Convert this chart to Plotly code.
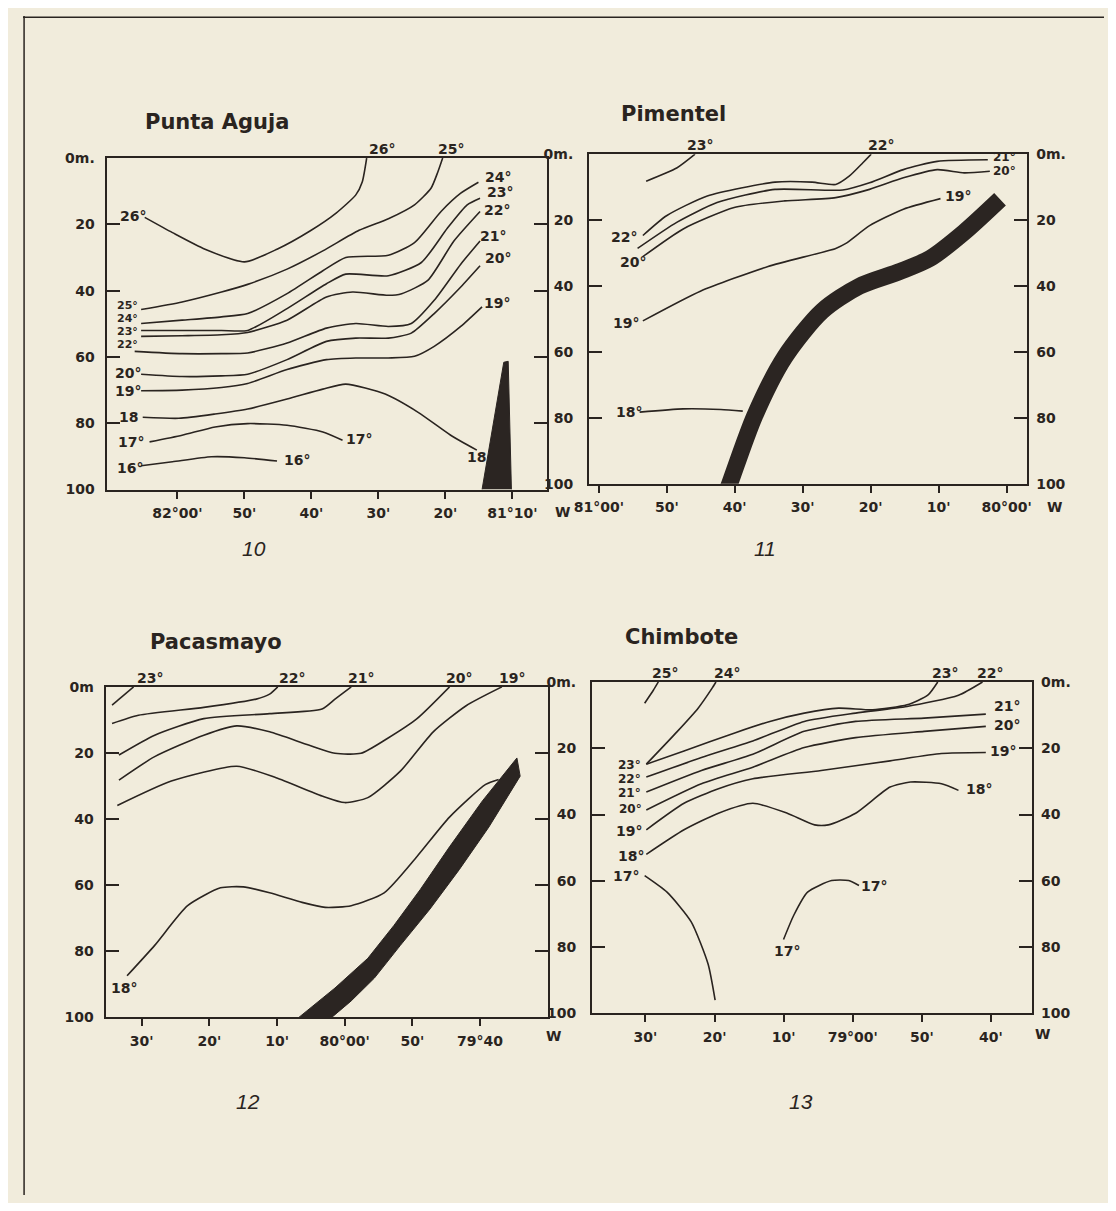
import plotly.graph_objects as go

INK = "#2a2420"
PAPER = "#f1ecdc"
FONT = "DejaVu Sans"

# ---------------- Fig. 10  Punta Aguja ----------------
PA_T26_LON = [-82.081, -82.012, -81.931, -81.833, -81.752, -81.670, -81.605, -81.556, -81.540, -81.529]
PA_T26_DEP = [17.9, 22.5, 27.5, 31.3, 27.5, 22.0, 16.6, 11.1, 7.2, 0.0]
PA_T25_LON = [-82.090, -81.988, -81.890, -81.825, -81.727, -81.638, -81.548, -81.475, -81.410, -81.369, -81.352, -81.340]
PA_T25_DEP = [45.7, 43.4, 40.4, 38.1, 33.5, 28.0, 21.8, 18.3, 14.1, 9.1, 4.2, 0.0]
PA_T24_LON = [-82.090, -81.988, -81.890, -81.825, -81.727, -81.638, -81.581, -81.475, -81.410, -81.344, -81.295, -81.251]
PA_T24_DEP = [49.9, 48.9, 47.9, 46.9, 40.9, 34.0, 30.0, 29.3, 25.5, 16.1, 10.6, 7.3]
PA_T23_LON = [-82.090, -81.988, -81.890, -81.825, -81.727, -81.629, -81.581, -81.475, -81.393, -81.328, -81.279, -81.247]
PA_T23_DEP = [52.0, 52.0, 52.0, 52.0, 45.4, 37.9, 35.0, 35.5, 31.5, 21.1, 14.1, 12.1]
PA_T22_LON = [-82.090, -81.988, -81.890, -81.825, -81.727, -81.629, -81.564, -81.475, -81.442, -81.377, -81.312, -81.247]
PA_T22_DEP = [53.8, 53.6, 53.3, 52.6, 48.9, 41.9, 40.4, 41.4, 40.9, 36.9, 25.0, 16.1]
PA_T21_LON = [-82.106, -81.988, -81.890, -81.825, -81.727, -81.629, -81.556, -81.475, -81.418, -81.361, -81.295, -81.247]
PA_T21_DEP = [58.3, 59.0, 59.0, 58.8, 55.8, 51.3, 49.9, 50.8, 49.9, 42.9, 32.0, 25.0]
PA_T20_LON = [-82.090, -81.988, -81.890, -81.825, -81.727, -81.629, -81.556, -81.475, -81.418, -81.361, -81.295, -81.247]
PA_T20_DEP = [65.2, 65.9, 65.7, 65.2, 60.8, 55.3, 54.3, 54.3, 52.8, 46.9, 38.9, 32.5]
PA_T19_LON = [-82.090, -81.988, -81.890, -81.825, -81.727, -81.629, -81.556, -81.475, -81.410, -81.361, -81.295, -81.242]
PA_T19_DEP = [70.2, 70.0, 69.2, 68.0, 63.8, 60.8, 60.3, 60.3, 59.8, 56.8, 50.8, 44.9]
PA_T18_LON = [-82.086, -81.996, -81.906, -81.825, -81.727, -81.638, -81.581, -81.483, -81.401, -81.320, -81.255]
PA_T18_DEP = [78.2, 78.5, 77.2, 75.7, 72.7, 69.7, 68.2, 71.2, 76.7, 83.6, 88.1]
PA_T17_LON = [-82.069, -81.988, -81.906, -81.825, -81.727, -81.638, -81.589]
PA_T17_DEP = [85.6, 83.6, 81.1, 80.1, 80.6, 82.6, 85.1]
PA_T16_LON = [-82.090, -82.012, -81.915, -81.833, -81.752]
PA_T16_DEP = [92.8, 91.6, 90.1, 90.4, 91.4]
PA_SHELF_LON = [-81.242, -81.188, -81.177, -81.169]
PA_SHELF_DEP = [100, 61.6, 61.3, 100]
PA_TOP_TEXT = ["26°", "25°"]
PA_TOP_LON = [-81.491, -81.320]
PA_LABEL_TEXT = ["26°", "24°", "23°", "22°", "21°", "20°", "19°", "20°", "19°", "18", "17°", "16°", "17°", "16°", "18"]
PA_LABEL_LON = [-82.110, -81.202, -81.198, -81.206, -81.214, -81.202, -81.206, -82.122, -82.122, -82.122, -82.114,
                -82.118, -81.548, -81.703, -81.255]
PA_LABEL_DEP = [17.6, 5.7, 10.1, 15.6, 23.5, 30.0, 43.7, 64.7, 70.2, 78.2, 85.6, 93.5, 84.6, 91.1, 90.1]
PA_STACK_TEXT = ["25°", "24°", "23°", "22°"]
PA_STACK_LON = [-82.124, -82.124, -82.124, -82.124]
PA_STACK_DEP = [44.6, 48.5, 52.4, 56.3]
PA_TICK_LON = [-82.0, -81.8333, -81.6667, -81.5, -81.3333, -81.1667]
PA_TICK_TEXT = ["82°00'", "50'", "40'", "30'", "20'", "81°10'"]

# ---------------- Fig. 11  Pimentel ----------------
PI_T23_LON = [-80.884, -80.809, -80.764]
PI_T23_DEP = [8.2, 4.2, 0.0]
PI_T22_LON = [-80.892, -80.834, -80.734, -80.568, -80.477, -80.419, -80.386, -80.353, -80.332]
PI_T22_DEP = [24.7, 18.7, 12.7, 8.5, 8.5, 9.2, 6.7, 2.7, 0.0]
PI_T21_LON = [-80.905, -80.809, -80.710, -80.568, -80.402, -80.336, -80.253, -80.170, -80.046]
PI_T21_DEP = [28.6, 20.7, 14.7, 10.7, 10.9, 8.7, 4.7, 2.2, 1.7]
PI_T20_LON = [-80.892, -80.793, -80.668, -80.544, -80.419, -80.336, -80.253, -80.170, -80.104, -80.041]
PI_T20_DEP = [31.1, 22.7, 16.2, 14.2, 13.2, 10.7, 7.2, 4.7, 5.7, 5.2]
PI_T19_LON = [-80.892, -80.751, -80.585, -80.419, -80.394, -80.336, -80.253, -80.162]
PI_T19_DEP = [50.6, 41.6, 34.1, 28.6, 27.1, 21.7, 16.7, 13.5]
PI_T18_LON = [-80.900, -80.793, -80.701, -80.647]
PI_T18_DEP = [78.3, 77.3, 77.5, 78.0]
PI_SHELF_LON = [-80.691, -80.679, -80.618, -80.544, -80.452, -80.361, -80.261, -80.187, -80.104, -80.016]
PI_SHELF_DEP = [104, 100, 79.5, 61.6, 47.6, 40.1, 35.6, 31.6, 23.7, 13.7]
PI_TOP_TEXT = ["23°", "22°"]
PI_TOP_LON = [-80.751, -80.307]
PI_LABEL_TEXT = ["22°", "20°", "19°", "18°", "19°"]
PI_LABEL_LON = [-80.938, -80.917, -80.934, -80.925, -80.120]
PI_LABEL_DEP = [25.1, 32.6, 51.1, 78.3, 12.7]
PI_PAIR_TEXT = ["21°", "20°"]
PI_PAIR_LON = [-80.004, -80.004]
PI_PAIR_DEP = [0.9, 5.1]
PI_TICK_LON = [-81.0, -80.8333, -80.6667, -80.5, -80.3333, -80.1667, -80.0]
PI_TICK_TEXT = ["81°00'", "50'", "40'", "30'", "20'", "10'", "80°00'"]

# ---------------- Fig. 12  Pacasmayo ----------------
PC_T23_LON = [-80.573, -80.520]
PC_T23_DEP = [5.5, 0.0]
PC_T22_LON = [-80.573, -80.508, -80.347, -80.218, -80.185, -80.165]
PC_T22_DEP = [11.1, 8.6, 6.2, 3.7, 2.2, 0.0]
PC_T21_LON = [-80.556, -80.468, -80.347, -80.185, -80.056, -80.024, -79.984]
PC_T21_DEP = [20.6, 14.6, 9.6, 8.1, 6.7, 3.7, 0.0]
PC_T20_LON = [-80.556, -80.468, -80.347, -80.266, -80.185, -80.089, -80.024, -79.960, -79.895, -79.822, -79.742]
PC_T20_DEP = [28.2, 21.1, 14.6, 11.8, 13.6, 17.6, 20.1, 20.1, 15.6, 9.6, 0.0]
PC_T19_LON = [-80.560, -80.427, -80.266, -80.169, -80.056, -80.000, -79.943, -79.863, -79.782, -79.701, -79.613]
PC_T19_DEP = [35.9, 28.5, 24.0, 27.5, 33.0, 35.0, 33.5, 25.5, 13.6, 5.7, 0.0]
PC_T18_LON = [-80.536, -80.468, -80.387, -80.306, -80.250, -80.185, -80.105, -80.048, -79.984, -79.903, -79.822,
              -79.742, -79.653, -79.621]
PC_T18_DEP = [87.4, 78.2, 66.2, 60.8, 60.5, 62.3, 65.2, 66.7, 66.2, 62.3, 51.3, 39.4, 29.5, 28.0]
PC_SHELF_LON = [-80.113, -80.024, -79.943, -79.879, -79.814, -79.742, -79.661, -79.576, -79.568, -79.645, -79.718,
                -79.790, -79.863, -79.927, -79.984, -80.032]
PC_SHELF_DEP = [100, 91.1, 82.1, 72.2, 61.3, 48.4, 34.5, 21.5, 27.0, 42.4, 55.3, 67.2, 78.2, 88.1, 95.0, 100]
PC_TOP_TEXT = ["23°", "22°", "21°", "20°", "19°"]
PC_TOP_LON = [-80.480, -80.129, -79.960, -79.718, -79.588]
PC_LABEL_TEXT = ["18°"]
PC_LABEL_LON = [-80.544]
PC_LABEL_DEP = [91.1]
PC_TICK_LON = [-80.5, -80.3333, -80.1667, -80.0, -79.8333, -79.6667]
PC_TICK_TEXT = ["30'", "20'", "10'", "80°00'", "50'", "79°40"]

# ---------------- Fig. 13  Chimbote ----------------
CH_T25_LON = [-79.502, -79.481, -79.469]
CH_T25_DEP = [6.4, 2.5, 0.0]
CH_T24_LON = [-79.498, -79.423, -79.373, -79.340, -79.330]
CH_T24_DEP = [24.8, 14.9, 7.9, 2.0, 0.0]
CH_T23_LON = [-79.498, -79.407, -79.283, -79.200, -79.117, -79.034, -78.952, -78.869, -78.819, -78.795]
CH_T23_DEP = [24.8, 20.8, 15.3, 11.9, 9.4, 7.9, 8.4, 6.9, 4.0, 0.0]
CH_T22_LON = [-79.498, -79.365, -79.241, -79.117, -78.993, -78.869, -78.745, -78.687]
CH_T22_DEP = [28.7, 22.8, 17.8, 11.9, 9.4, 7.4, 4.0, 0.0]
CH_T21_LON = [-79.498, -79.365, -79.241, -79.117, -78.993, -78.828, -78.679]
CH_T21_DEP = [33.2, 26.7, 21.8, 14.9, 11.9, 10.9, 9.7]
CH_T20_LON = [-79.498, -79.365, -79.241, -79.117, -78.993, -78.828, -78.679]
CH_T20_DEP = [38.6, 30.7, 25.7, 19.8, 16.8, 14.9, 13.4]
CH_T19_LON = [-79.498, -79.407, -79.324, -79.241, -79.076, -78.910, -78.786, -78.679]
CH_T19_DEP = [44.6, 36.6, 32.2, 29.2, 26.7, 23.8, 21.6, 21.3]
CH_T18_LON = [-79.498, -79.407, -79.324, -79.241, -79.158, -79.092, -79.059, -78.993, -78.910, -78.861, -78.786,
              -78.745]
CH_T18_DEP = [52.0, 44.6, 39.6, 36.6, 39.6, 43.1, 43.1, 39.6, 31.7, 30.2, 30.7, 32.7]
CH_T17A_LON = [-79.502, -79.448, -79.390, -79.349, -79.332]
CH_T17A_DEP = [58.4, 63.4, 72.3, 85.1, 96.0]
CH_T17B_LON = [-79.167, -79.142, -79.109, -79.051, -79.010, -78.985]
CH_T17B_DEP = [77.7, 70.3, 63.4, 59.9, 59.9, 61.4]
CH_TOP_TEXT = ["25°", "24°", "23°", "22°"]
CH_TOP_LON = [-79.452, -79.303, -78.778, -78.670]
CH_STACK_TEXT = ["23°", "22°", "21°", "20°"]
CH_STACK_LON = [-79.539, -79.539, -79.539, -79.535]
CH_STACK_DEP = [25.0, 29.2, 33.4, 38.4]
CH_LABEL_TEXT = ["19°", "18°", "17°", "21°", "20°", "19°", "18°", "17°", "17°"]
CH_LABEL_LON = [-79.539, -79.535, -79.547, -78.629, -78.629, -78.637, -78.695, -78.948, -79.158]
CH_LABEL_DEP = [45.0, 52.5, 58.4, 7.4, 12.9, 20.8, 32.2, 61.4, 81.2]
CH_TICK_LON = [-79.5, -79.3333, -79.1667, -79.0, -78.8333, -78.6667]
CH_TICK_TEXT = ["30'", "20'", "10'", "79°00'", "50'", "40'"]

DEPTH_TICKS = [0, 20, 40, 60, 80, 100]
DEPTH_TEXT = ["0m.", "20", "40", "60", "80", "100"]
DEPTH_TEXT_PC = ["0m", "20", "40", "60", "80", "100"]

TITLES = ["Punta Aguja", "Pimentel", "Pacasmayo", "Chimbote"]
FIG_NUMBERS = ["10", "11", "12", "13"]

# ---------------- page geometry (browser body has an 8 px margin) ----------------
OFF = 8
W, H = 1100, 1195


def fx(p):
    return (p - OFF) / W


def fy(p):
    return 1 - (p - OFF) / H


fig = go.Figure()
LABELFONT = dict(family=FONT, size=14, color=INK, weight="bold")


def add_iso(lon, dep, xa, ya, smooth=0.6):
    fig.add_trace(go.Scatter(x=lon, y=dep, mode="lines", xaxis=xa, yaxis=ya, hoverinfo="skip",
                             showlegend=False,
                             line=dict(color=INK, width=1.6, shape="spline", smoothing=smooth)))


def add_shelf(lon, dep, xa, ya):
    fig.add_trace(go.Scatter(x=lon, y=dep, mode="lines", fill="toself", fillcolor="#2b2522",
                             xaxis=xa, yaxis=ya, hoverinfo="skip", showlegend=False,
                             line=dict(color="#2b2522", width=1)))


def add_labels(texts, lons, deps, xa, ya, size=14):
    for t, lo, de in zip(texts, lons, deps):
        fig.add_annotation(x=lo, y=de, xref=xa, yref=ya, text=t, showarrow=False,
                           font=dict(family=FONT, size=size, color=INK, weight="bold"),
                           xanchor="center", yanchor="middle")


def add_top_labels(texts, lons, xa, ya):
    for t, lo in zip(texts, lons):
        fig.add_annotation(x=lo, y=DEPTH_TICKS[0], xref=xa, yref=ya, text=t, showarrow=False,
                           font=LABELFONT, xanchor="center", yanchor="bottom", yshift=-1)


# panel 1
for lo, de in [(PA_T26_LON, PA_T26_DEP), (PA_T25_LON, PA_T25_DEP), (PA_T24_LON, PA_T24_DEP),
               (PA_T23_LON, PA_T23_DEP), (PA_T22_LON, PA_T22_DEP), (PA_T21_LON, PA_T21_DEP),
               (PA_T20_LON, PA_T20_DEP), (PA_T19_LON, PA_T19_DEP), (PA_T18_LON, PA_T18_DEP),
               (PA_T17_LON, PA_T17_DEP), (PA_T16_LON, PA_T16_DEP)]:
    add_iso(lo, de, "x", "y")
add_shelf(PA_SHELF_LON, PA_SHELF_DEP, "x", "y")
add_labels(PA_LABEL_TEXT, PA_LABEL_LON, PA_LABEL_DEP, "x", "y")
add_labels(PA_STACK_TEXT, PA_STACK_LON, PA_STACK_DEP, "x", "y", size=11)
add_top_labels(PA_TOP_TEXT, PA_TOP_LON, "x", "y")

# panel 2
for lo, de in [(PI_T23_LON, PI_T23_DEP), (PI_T22_LON, PI_T22_DEP), (PI_T21_LON, PI_T21_DEP),
               (PI_T20_LON, PI_T20_DEP), (PI_T19_LON, PI_T19_DEP), (PI_T18_LON, PI_T18_DEP)]:
    add_iso(lo, de, "x2", "y2")
fig.add_trace(go.Scatter(x=PI_SHELF_LON, y=PI_SHELF_DEP, mode="lines", xaxis="x2", yaxis="y2",
                         hoverinfo="skip", showlegend=False,
                         line=dict(color="#2b2522", width=17, shape="spline", smoothing=0.8)))
add_labels(PI_LABEL_TEXT, PI_LABEL_LON, PI_LABEL_DEP, "x2", "y2")
add_labels(PI_PAIR_TEXT, PI_PAIR_LON, PI_PAIR_DEP, "x2", "y2", size=12)
add_top_labels(PI_TOP_TEXT, PI_TOP_LON, "x2", "y2")

# panel 3
for lo, de in [(PC_T23_LON, PC_T23_DEP), (PC_T22_LON, PC_T22_DEP), (PC_T21_LON, PC_T21_DEP),
               (PC_T20_LON, PC_T20_DEP), (PC_T19_LON, PC_T19_DEP), (PC_T18_LON, PC_T18_DEP)]:
    add_iso(lo, de, "x3", "y3")
add_shelf(PC_SHELF_LON, PC_SHELF_DEP, "x3", "y3")
add_labels(PC_LABEL_TEXT, PC_LABEL_LON, PC_LABEL_DEP, "x3", "y3")
add_top_labels(PC_TOP_TEXT, PC_TOP_LON, "x3", "y3")

# panel 4
for lo, de in [(CH_T25_LON, CH_T25_DEP), (CH_T24_LON, CH_T24_DEP), (CH_T23_LON, CH_T23_DEP),
               (CH_T22_LON, CH_T22_DEP), (CH_T21_LON, CH_T21_DEP), (CH_T20_LON, CH_T20_DEP),
               (CH_T19_LON, CH_T19_DEP), (CH_T18_LON, CH_T18_DEP), (CH_T17A_LON, CH_T17A_DEP),
               (CH_T17B_LON, CH_T17B_DEP)]:
    add_iso(lo, de, "x4", "y4")
add_labels(CH_LABEL_TEXT, CH_LABEL_LON, CH_LABEL_DEP, "x4", "y4")
add_labels(CH_STACK_TEXT, CH_STACK_LON, CH_STACK_DEP, "x4", "y4", size=12)
add_top_labels(CH_TOP_TEXT, CH_TOP_LON, "x4", "y4")

# invisible anchors for the right-hand depth axes of panels 2 and 4
fig.add_trace(go.Scatter(x=[PI_TICK_LON[3]], y=[DEPTH_TICKS[2]], mode="markers", xaxis="x2", yaxis="y5",
                         marker=dict(opacity=0), hoverinfo="skip", showlegend=False))
fig.add_trace(go.Scatter(x=[CH_TICK_LON[3]], y=[DEPTH_TICKS[2]], mode="markers", xaxis="x4", yaxis="y6",
                         marker=dict(opacity=0), hoverinfo="skip", showlegend=False))

TICKFONT = dict(family=FONT, size=14, color=INK, weight="bold")


def xcfg(dom, rng, vals, text, anchor):
    return dict(domain=dom, range=rng, anchor=anchor, tickvals=vals, ticktext=text, ticks="outside",
                ticklen=7, tickwidth=2, tickcolor=INK, showline=True, linewidth=2, linecolor=INK,
                mirror=True, showgrid=False, zeroline=False, tickfont=TICKFONT, ticklabelstandoff=3,
                fixedrange=True, tickangle=0)


def ycfg(dom, anchor, text, mirror, standoff, side="left", overlaying=None):
    d = dict(domain=dom, range=[100, 0], anchor=anchor, tickvals=DEPTH_TICKS, ticktext=text, ticks="inside",
             ticklen=13, tickwidth=2, tickcolor=INK, showline=True, linewidth=2, linecolor=INK,
             mirror=mirror, showgrid=False, zeroline=False, tickfont=TICKFONT, ticklabelstandoff=standoff,
             side=side, fixedrange=True)
    if overlaying:
        d["overlaying"] = overlaying
        d.pop("domain")
    return d


dom_y1 = [fy(488), fy(152)]
dom_y2 = [fy(482), fy(148)]
dom_y3 = [fy(1023), fy(688)]
dom_y4 = [fy(1019), fy(683)]

title_pos = [(205, 115), (670, 107), (204, 643), (678, 637)]
for t, (px, py) in zip(TITLES, title_pos):
    fig.add_annotation(x=fx(px), y=fy(py), xref="paper", yref="paper", text=t, showarrow=False,
                       font=dict(family=FONT, size=21, color=INK, weight="bold"),
                       xanchor="center", yanchor="middle")
num_pos = [(243, 548), (763, 548), (237, 1108), (800, 1108)]
for t, (px, py) in zip(FIG_NUMBERS, num_pos):
    fig.add_annotation(x=fx(px), y=fy(py), xref="paper", yref="paper", text=t, showarrow=False,
                       font=dict(family="Liberation Sans", size=21, color=INK, style="italic"),
                       xanchor="center", yanchor="middle")
w_pos = [(557, 511), (1058, 506), (548, 1042), (1045, 1040)]
for (px, py) in w_pos:
    fig.add_annotation(x=fx(px), y=fy(py), xref="paper", yref="paper", text="W", showarrow=False,
                       font=TICKFONT, xanchor="center", yanchor="middle")

fig.update_layout(
    width=W, height=H, margin=dict(l=0, r=0, t=0, b=0),
    paper_bgcolor=PAPER, plot_bgcolor=PAPER, showlegend=False,
    xaxis=xcfg([fx(93), fx(541)], [-82.176, -81.081], PA_TICK_LON, PA_TICK_TEXT, "y"),
    xaxis2=xcfg([fx(584), fx(1030)], [-81.024, -79.949], PI_TICK_LON, PI_TICK_TEXT, "y2"),
    xaxis3=xcfg([fx(92), fx(542)], [-80.589, -79.500], PC_TICK_LON, PC_TICK_TEXT, "y3"),
    xaxis4=xcfg([fx(587), fx(1035)], [-79.629, -78.567], CH_TICK_LON, CH_TICK_TEXT, "y4"),
    yaxis=ycfg(dom_y1, "x", DEPTH_TEXT, "ticks", 7),
    yaxis2=ycfg(dom_y2, "x2", DEPTH_TEXT, False, 11),
    yaxis3=ycfg(dom_y3, "x3", DEPTH_TEXT_PC, "ticks", 7),
    yaxis4=ycfg(dom_y4, "x4", DEPTH_TEXT, False, 11),
    yaxis5=ycfg(dom_y2, "x2", DEPTH_TEXT, False, 4, side="right", overlaying="y2"),
    yaxis6=ycfg(dom_y4, "x4", DEPTH_TEXT, False, 4, side="right", overlaying="y4"),
    shapes=[
        dict(type="line", xref="paper", yref="paper", x0=0.001, x1=0.001, y0=0, y1=1,
             line=dict(color=INK, width=1.5)),
        dict(type="line", xref="paper", yref="paper", x0=0, x1=1, y0=0.999, y1=0.999,
             line=dict(color=INK, width=1.5)),
    ],
)

fig.write_html("out.html")
